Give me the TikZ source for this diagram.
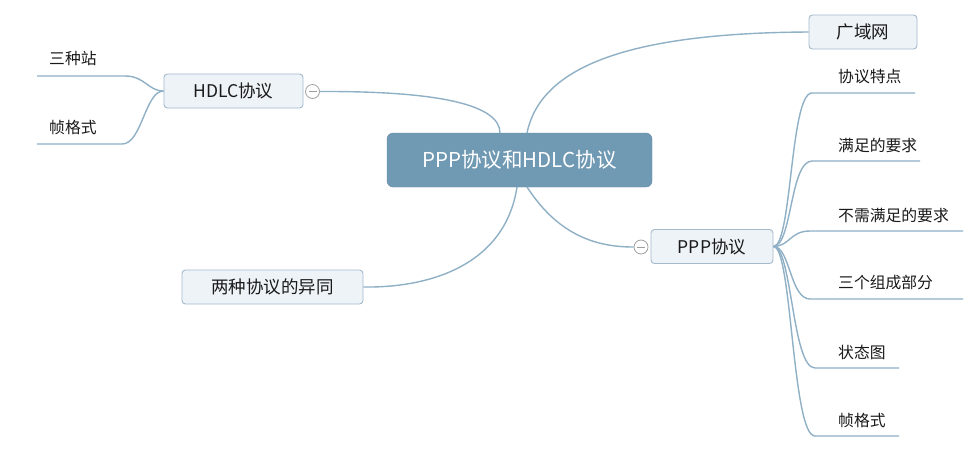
\documentclass[tikz,border=0pt]{standalone}
\usepackage{fontspec}
\setmainfont{Noto Sans CJK SC}
\definecolor{centerfill}{HTML}{7099B3}
\definecolor{linec}{HTML}{8FB0C5}
\definecolor{boxfill}{HTML}{EEF3F8}
\definecolor{boxdraw}{HTML}{A3B9CC}
\definecolor{txt}{HTML}{1A1A1A}
\begin{document}
\begin{tikzpicture}[x=1pt,y=-1pt,
  centerbox/.style={draw=centerfill!90!black,fill=centerfill,rounded corners=6pt,text=white,font=\fontsize{20.5}{24}\selectfont,minimum width=265pt,minimum height=54pt,inner sep=0pt},
  topicbox/.style={draw=boxdraw,fill=boxfill,rounded corners=3.5pt,text=txt,font=\fontsize{17.5}{20}\selectfont,minimum height=34pt,inner sep=0pt,line width=0.9pt},
  leaf/.style={text=txt,font=\fontsize{15.8}{18}\selectfont,inner sep=0pt,anchor=west},
  conn/.style={draw=linec,line width=1.4pt},
  foldc/.style={circle,draw=gray!75,fill=white,minimum size=14pt,inner sep=0pt,line width=0.8pt}
]
\useasboundingbox (0,0) rectangle (973,451);
\fill[white] (0,0) rectangle (973,451);

% central
\node[centerbox] (c) at (519.5,160) {PPP协议和HDLC协议};

% HDLC
\node[topicbox,minimum width=139pt] (hdlc) at (233.5,91) {HDLC协议};
\node[foldc] (hf) at (312.5,91.5) {};
\draw[gray!75,line width=0.9pt] ([xshift=-4pt]hf.center) -- ([xshift=4pt]hf.center);

\node[leaf] (h1) at (49,58) {三种站};
\node[leaf] (h2) at (49,127) {帧格式};
\coordinate (h1e) at (37,76);
\coordinate (h2e) at (37,144);

% 广域网
\node[topicbox,minimum width=108pt] (wan) at (863,32) {广域网};

% 两种协议的异同
\node[topicbox,minimum width=181pt] (diff) at (272.5,287) {两种协议的异同};

% PPP
\node[topicbox,minimum width=122pt] (ppp) at (712,246.5) {PPP协议};
\node[foldc] (pf) at (641,247) {};
\draw[gray!75,line width=0.9pt] ([xshift=-4pt]pf.center) -- ([xshift=4pt]pf.center);

\node[leaf] (p1) at (838,77) {协议特点};
\node[leaf] (p2) at (838,145) {满足的要求};
\node[leaf] (p3) at (838,215) {不需满足的要求};
\node[leaf] (p4) at (838,283) {三个组成部分};
\node[leaf] (p5) at (838,352) {状态图};
\node[leaf] (p6) at (838,420) {帧格式};
\coordinate (p1e) at (915,93);
\coordinate (p2e) at (920,161);
\coordinate (p3e) at (963,231);
\coordinate (p4e) at (963,299);
\coordinate (p5e) at (899,368);
\coordinate (p6e) at (899,436);

% connectors center
\draw[conn] (hf.east) .. controls (440,91) and (500,105) .. (500,133);
\draw[conn] (527,133) .. controls (540,70) and (620,33) .. (wan.west);
\draw[conn] (517,187) .. controls (505,265) and (430,288) .. (diff.east);
\draw[conn] (527,187) .. controls (560,238) and (600,247) .. (pf.west);

% HDLC leaves
\draw[conn] (hdlc.west) .. controls (148,91) and (145,76) .. (125,76) -- (h1e);
\draw[conn] (hdlc.west) .. controls (145,91) and (142,144) .. (122,144) -- (h2e);

% PPP leaves
\draw[conn] (ppp.east) .. controls (792,246) and (790,93) .. (812,93) -- (p1e);
\draw[conn] (ppp.east) .. controls (792,246) and (790,161) .. (812,161) -- (p2e);
\draw[conn] (ppp.east) .. controls (790,246) and (790,231) .. (810,231) -- (p3e);
\draw[conn] (ppp.east) .. controls (790,246) and (790,299) .. (810,299) -- (p4e);
\draw[conn] (ppp.east) .. controls (792,246) and (792,368) .. (815,368) -- (p5e);
\draw[conn] (ppp.east) .. controls (792,246) and (792,436) .. (815,436) -- (p6e);
\end{tikzpicture}
\end{document}
